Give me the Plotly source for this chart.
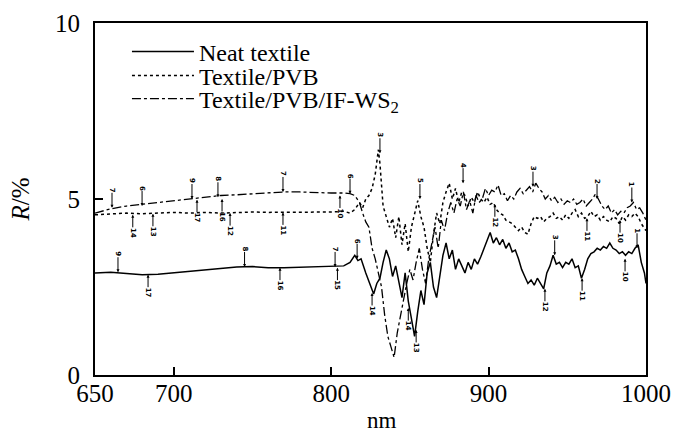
import plotly.graph_objects as go

# ---------------- data ----------------
neat_x = [650, 660, 670, 680, 690, 700, 710, 720, 730, 740, 750, 760, 770, 780, 790, 800, 808, 812, 815, 817, 819, 822, 825, 827, 829, 831, 833, 835, 837, 839, 841, 843, 845, 847, 849, 851, 853, 855, 857, 859, 861, 863, 865, 867, 869, 871, 873, 875, 877, 879, 881, 883, 885, 887, 889, 891, 893, 895, 897, 899, 901, 903, 905, 907, 909, 911, 913, 915, 917, 919, 921, 923, 925, 927, 929, 931, 933, 935, 937, 939, 941, 943, 945, 947, 949, 951, 953, 955, 957, 959, 961, 963, 965, 967, 969, 971, 973, 975, 977, 979, 981, 983, 985, 987, 989, 991, 993, 995, 997, 999, 1000]
neat_y = [2.9, 2.92, 2.88, 2.85, 2.86, 2.9, 2.95, 2.98, 3.02, 3.07, 3.08, 3.05, 3.05, 3.06, 3.07, 3.08, 3.1, 3.2, 3.4, 3.25, 3.3, 2.9, 2.5, 2.3, 2.6, 2.75, 3.2, 3.55, 3.3, 2.8, 3.1, 2.6, 2.2, 2.9, 2.1, 1.6, 1.1, 1.8, 2.4, 2.0, 2.9, 3.2, 2.5, 2.2, 2.8, 3.4, 3.75, 3.3, 3.55, 3.0, 3.3, 3.1, 2.9, 3.2, 3.0, 3.3, 3.15, 3.35, 3.6, 3.8, 4.05, 3.75, 3.9, 3.7, 3.85, 3.6, 3.75, 3.5, 3.55, 3.3, 3.0, 2.8, 2.6, 2.7, 2.55, 2.75, 2.6, 2.45, 2.9, 3.1, 3.4, 3.15, 3.2, 3.05, 3.2, 3.15, 3.3, 3.05, 3.1, 2.75, 3.0, 3.3, 3.45, 3.5, 3.6, 3.55, 3.65, 3.6, 3.75, 3.6, 3.55, 3.45, 3.5, 3.4, 3.5, 3.45, 3.6, 3.7, 3.2, 2.9, 2.6]

pvb_x = [650, 660, 670, 680, 690, 700, 710, 720, 730, 740, 750, 760, 770, 780, 790, 800, 808, 812, 815, 818, 820, 822, 824, 826, 828, 829, 830, 831, 832, 833, 835, 837, 839, 841, 843, 845, 847, 849, 851, 853, 855, 857, 859, 861, 863, 865, 867, 869, 871, 873, 875, 877, 879, 881, 883, 885, 887, 889, 891, 893, 895, 897, 899, 901, 903, 905, 907, 909, 911, 913, 915, 917, 919, 921, 923, 925, 927, 929, 931, 933, 935, 937, 939, 941, 943, 945, 947, 949, 951, 953, 955, 957, 959, 961, 963, 965, 967, 969, 971, 973, 975, 977, 979, 981, 983, 985, 987, 989, 991, 993, 995, 997, 1000]
pvb_y = [4.55, 4.58, 4.6, 4.58, 4.6, 4.62, 4.6, 4.62, 4.6, 4.62, 4.63, 4.62, 4.62, 4.63, 4.63, 4.63, 4.65, 4.6, 4.7, 4.9, 4.75, 5.0, 5.1, 5.3, 5.7, 6.0, 6.4, 6.0, 5.4, 4.8, 4.5, 4.2, 4.45, 3.9, 4.5, 3.7, 4.3, 3.5, 4.2, 4.6, 4.95, 4.5, 4.2, 3.6, 3.2, 4.0, 4.6, 4.3, 4.9, 5.2, 5.45, 5.0, 5.3, 4.9, 5.2, 5.1, 4.8, 5.05, 4.9, 5.2, 5.0, 4.9, 5.05, 4.85, 4.9, 4.7, 4.6, 4.55, 4.4, 4.35, 4.3, 4.2, 4.1, 4.2, 4.05, 4.0, 4.3, 4.5, 4.45, 4.5, 4.35, 4.45, 4.5, 4.6, 4.45, 4.5, 4.4, 4.55, 4.45, 4.6, 4.7, 4.5, 4.6, 4.45, 4.5, 4.65, 4.5, 4.55, 4.4, 4.5, 4.4, 4.35, 4.5, 4.45, 4.3, 4.5, 4.4, 4.55, 4.5, 4.6, 4.5, 4.3, 4.1]

ws2_x = [650, 660, 670, 680, 690, 700, 710, 720, 730, 740, 750, 760, 770, 780, 790, 800, 808, 812, 815, 818, 820, 822, 824, 826, 828, 830, 832, 834, 836, 838, 840, 842, 844, 846, 848, 850, 852, 854, 856, 858, 860, 862, 864, 866, 868, 870, 872, 874, 876, 878, 880, 882, 884, 886, 888, 890, 892, 894, 896, 898, 900, 902, 904, 906, 908, 910, 912, 914, 916, 918, 920, 922, 924, 926, 928, 930, 932, 934, 936, 938, 940, 942, 944, 946, 948, 950, 952, 954, 956, 958, 960, 962, 964, 966, 968, 970, 972, 974, 976, 978, 980, 982, 984, 986, 988, 990, 992, 994, 996, 998, 1000]
ws2_y = [4.6, 4.72, 4.8, 4.85, 4.9, 4.95, 5.0, 5.05, 5.1, 5.12, 5.15, 5.17, 5.2, 5.2, 5.18, 5.17, 5.17, 5.15, 5.1, 4.9, 4.6, 4.35, 4.2, 3.6, 3.3, 2.9, 2.5, 1.7, 1.1, 0.8, 0.5, 1.2, 1.7, 2.1, 2.6, 3.0, 2.7, 3.2, 3.6, 3.0, 2.6, 3.3, 3.8, 4.2, 3.6, 4.4, 4.1, 4.6, 4.9, 4.6, 5.0, 4.8, 5.2, 4.7, 4.95, 4.6, 5.1, 4.9, 5.0, 5.3, 5.1, 5.25, 5.2, 5.4, 5.1, 5.15, 4.95, 5.1, 5.0, 5.2, 5.3, 5.15, 5.25, 5.35, 5.2, 5.45, 5.3, 5.2, 5.0, 5.1, 4.95, 5.05, 4.9, 5.0, 4.85, 4.95, 4.9, 5.0, 4.85, 4.9, 5.0, 4.8, 4.9, 5.0, 5.15, 4.95, 4.8, 4.7, 4.8, 4.6, 4.7, 4.55, 4.65, 4.6, 4.75, 4.8, 4.9, 4.7, 4.75, 4.6, 4.4]

series_names = ["Neat textile", "Textile/PVB", "Textile/PVB/IF-WS<sub>2</sub>"]

# peak / valley markers: wavelength, R at arrow tip, label, side (1 = label above, -1 = label below)
mark_nm = [664.6, 683.7, 745, 767.5, 802.5, 804, 816.5, 826, 854, 849, 935.8, 942, 959.4, 986.7, 994.3,
           660.8, 679.9, 711.6, 728.1, 769.4, 812, 831, 856.4, 883.8, 928.2, 968.9, 991,
           674, 686.8, 714.8, 730.7, 735.8, 769.4, 805.6, 904, 962.5, 983.5]
mark_R = [2.92, 2.85, 3.07, 3.05, 3.07, 3.05, 3.3, 2.33, 1.28, 1.9, 2.45, 3.4, 2.75, 3.3, 3.6,
          4.75, 4.8, 5.0, 5.05, 5.2, 5.15, 6.3, 5.0, 5.45, 5.35, 5.0, 4.9,
          4.55, 4.58, 4.98, 5.0, 4.6, 4.62, 5.1, 4.85, 4.45, 4.4]
mark_text = ["9", "17", "8", "16", "7", "15", "6", "14", "13", "14", "12", "3", "11", "10", "1",
             "7", "6", "9", "8", "7", "6", "3", "5", "4", "3", "2", "1",
             "14", "13", "17", "16", "12", "11", "10", "12", "11", "10"]
mark_side = [1, -1, 1, -1, 1, -1, 1, -1, -1, -1, -1, 1, -1, -1, 1,
             1, 1, 1, 1, 1, 1, 1, 1, 1, 1, 1, 1,
             -1, -1, -1, -1, -1, -1, -1, -1, -1, -1]

# ---------------- figure ----------------
SERIF = "Liberation Serif"
BLACK = "black"
fig = go.Figure()
fig.add_trace(go.Scatter(x=neat_x, y=neat_y, mode="lines", name=series_names[0], legend="legend",
                         line=dict(color=BLACK, width=1.5, dash="solid")))
fig.add_trace(go.Scatter(x=pvb_x, y=pvb_y, mode="lines", name=series_names[1], legend="legend2",
                         line=dict(color=BLACK, width=1.5, dash="dot")))
fig.add_trace(go.Scatter(x=ws2_x, y=ws2_y, mode="lines", name=series_names[2], legend="legend3",
                         line=dict(color=BLACK, width=1.3, dash="dashdot")))

for nm, r, t, s in zip(mark_nm, mark_R, mark_text, mark_side):
    fig.add_annotation(x=nm, y=r, text="<b>" + t + "</b>", showarrow=True, ax=0, ay=-18 * s,
                       arrowhead=2, arrowsize=0.6, arrowwidth=1, arrowcolor=BLACK,
                       textangle=90, font=dict(family="DejaVu Sans", size=7, color=BLACK),
                       standoff=0, borderpad=0)

# x-axis title placed as text under the axis
fig.add_annotation(text="nm", xref="paper", yref="paper", x=0.521, y=-0.128,
                   xanchor="center", yanchor="middle", showarrow=False,
                   font=dict(family=SERIF, size=23, color=BLACK))

leg_common = dict(x=0.058, xanchor="left", yanchor="middle", bgcolor="rgba(0,0,0,0)",
                  font=dict(family=SERIF, size=24, color=BLACK), itemwidth=62,
                  borderwidth=0, tracegroupgap=0)

fig.update_layout(
    width=677, height=432,
    margin=dict(l=95, r=31, t=23, b=57, autoexpand=False),
    paper_bgcolor="white", plot_bgcolor="white",
    font=dict(family=SERIF, color=BLACK),
    showlegend=True,
    legend=dict(y=0.918, **leg_common),
    legend2=dict(y=0.85, **leg_common),
    legend3=dict(y=0.784, **leg_common),
    xaxis=dict(range=[650, 1000], tickvals=[650, 700, 800, 900, 1000],
               ticktext=["650", "700", "800", "900", "1000"], automargin=False,
               ticks="inside", ticklen=8, tickwidth=1.5, tickcolor=BLACK,
               showline=True, linecolor=BLACK, linewidth=2, mirror=True,
               showgrid=False, zeroline=False, ticklabelstandoff=-5,
               tickfont=dict(family=SERIF, size=25, color=BLACK)),
    yaxis=dict(range=[0, 10], tickvals=[0, 5, 10], automargin=False,
               ticks="inside", ticklen=8, tickwidth=1.5, tickcolor=BLACK,
               showline=True, linecolor=BLACK, linewidth=2, mirror=True,
               showgrid=False, zeroline=False, ticklabelstandoff=8,
               tickfont=dict(family=SERIF, size=25, color=BLACK),
               title=dict(text="<i>R</i>/%", font=dict(family=SERIF, size=25, color=BLACK), standoff=18)),
)

fig.write_html("out.html")
